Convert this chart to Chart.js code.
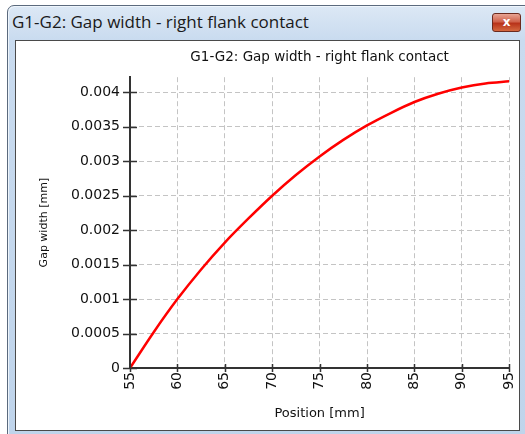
<!DOCTYPE html>
<html>
<head>
<meta charset="utf-8">
<script src="https://cdn.jsdelivr.net/npm/chart.js@4"></script>
<style>
  body { margin: 0; width: 525px; height: 434px; overflow: hidden; background: #fff; position: relative; }
  .frame {
    position: absolute; left: 7px; top: 5px; width: 530px; height: 440px;
    border: 1px solid #5b6a7d; border-radius: 7px 7px 0 0;
    background: linear-gradient(to bottom, #dce8f5 0px, #c9dbef 34px, #bfd4eb 100%);
    box-shadow: inset 1px 1px 0 #eef5fc;
  }
  .wintitle {
    position: absolute; left: 12px; top: 10px;
    font: 17px "Open Sans", sans-serif; color: #1a1a1a; white-space: nowrap;
  }
  .close {
    position: absolute; left: 492px; top: 13px; width: 29px; height: 19px;
    border: 1px solid #6b2a1e; border-radius: 3px; box-sizing: border-box;
    background: linear-gradient(to bottom, #e8a493 0%, #d0634c 45%, #b8331a 55%, #d4683f 100%);
    color: #fff; font: bold 12px "DejaVu Sans", sans-serif; text-align: center; line-height: 16px;
  }
  .panel {
    position: absolute; left: 15px; top: 40px; width: 505px; height: 391px;
    box-sizing: border-box; border: 1px solid #4a4a4a; background: #fff;
  }
  #chart { position: absolute; left: 16px; top: 41px; }
</style>
</head>
<body>
<div class="frame"></div>
<div class="wintitle">G1-G2: Gap width - right flank contact</div>
<div class="close">x</div>
<div class="panel"></div>
<canvas id="chart" width="514" height="389"></canvas>
<script>
// values
var positions = [55, 57.5, 60, 62.5, 65, 67.5, 70, 72.5, 75, 77.5, 80, 82.5, 85, 87.5, 90, 92.5, 95];
var gapWidth = [0, 0.00052, 0.00100, 0.00143, 0.00182, 0.00217, 0.00250, 0.00280, 0.00307, 0.00331,
                0.00352, 0.00370, 0.00386, 0.00398, 0.00407, 0.00413, 0.00416];
var xTicks = [55, 60, 65, 70, 75, 80, 85, 90, 95];
var yTicks = [0, 0.0005, 0.001, 0.0015, 0.002, 0.0025, 0.003, 0.0035, 0.004];

var chartTitle = 'G1-G2: Gap width - right flank contact';
var xTitle = 'Position [mm]';
var yTitle = 'Gap width [mm]';

var points = positions.map(function(p, i) { return {x: p, y: gapWidth[i]}; });

// small tick marks crossing the axis lines
var crossTicks = {
    id: 'crossTicks',
    afterDraw: function(chart) {
        var ctx = chart.ctx;
        var xs = chart.scales.x, ys = chart.scales.y;
        var area = chart.chartArea;
        ctx.save();
        ctx.strokeStyle = '#333';
        ctx.lineWidth = 1.5;
        ctx.beginPath();
        xTicks.forEach(function(v) {
            var px = Math.round(xs.getPixelForValue(v)) + 0.5;
            ctx.moveTo(px, area.bottom - 4);
            ctx.lineTo(px, area.bottom + 4);
        });
        yTicks.forEach(function(v) {
            var py = Math.round(ys.getPixelForValue(v)) + 0.5;
            ctx.moveTo(area.left - 7, py);
            ctx.lineTo(area.left + 7, py);
        });
        ctx.stroke();
        ctx.restore();
    }
};

new Chart(document.getElementById('chart').getContext('2d'), {
    type: 'line',
    data: {
        datasets: [{
            data: points,
            borderColor: '#ff0000',
            borderWidth: 2.5,
            pointRadius: 0,
            cubicInterpolationMode: 'monotone',
            fill: false
        }]
    },
    options: {
        responsive: false,
        animation: false,
        layout: { padding: { left: 0, right: 10, top: 0, bottom: 0 } },
        plugins: {
            legend: { display: false },
            tooltip: { enabled: false },
            title: {
                display: true,
                text: chartTitle,
                fullSize: false,
                color: '#111',
                font: { family: 'DejaVu Sans', size: 13.5, weight: 'normal', lineHeight: 1.2 },
                padding: { top: 8, bottom: 12 }
            }
        },
        scales: {
            x: {
                type: 'linear',
                min: 55,
                max: 95,
                afterFit: function(s) { s.height = 62; },
                ticks: {
                    stepSize: 5,
                    autoSkip: false,
                    minRotation: 90,
                    maxRotation: 90,
                    padding: 4,
                    color: '#111',
                    font: { family: 'DejaVu Sans', size: 14 },
                    callback: function(v) { return String(v); }
                },
                grid: { color: '#c4c4c4', lineWidth: 1, drawTicks: false },
                border: { color: '#333', width: 2, dash: [5, 3] },
                title: {
                    display: true,
                    text: xTitle,
                    color: '#111',
                    font: { family: 'DejaVu Sans', size: 13, lineHeight: 1.2 },
                    padding: { top: 0, bottom: 9 }
                }
            },
            y: {
                min: 0,
                max: 0.00422,
                afterFit: function(s) { s.width = 114; },
                ticks: {
                    stepSize: 0.0005,
                    includeBounds: false,
                    padding: 10,
                    color: '#111',
                    font: { family: 'DejaVu Sans', size: 14 },
                    callback: function(v) { return String(+v.toFixed(4)); }
                },
                grid: { color: '#c4c4c4', lineWidth: 1, drawTicks: false },
                border: { color: '#333', width: 2, dash: [5, 3] },
                title: {
                    display: true,
                    text: yTitle,
                    color: '#111',
                    font: { family: 'DejaVu Sans', size: 11, lineHeight: 1.2 },
                    padding: { top: 22, bottom: 0 }
                }
            }
        }
    },
    plugins: [crossTicks]
});
</script>
</body>
</html>
